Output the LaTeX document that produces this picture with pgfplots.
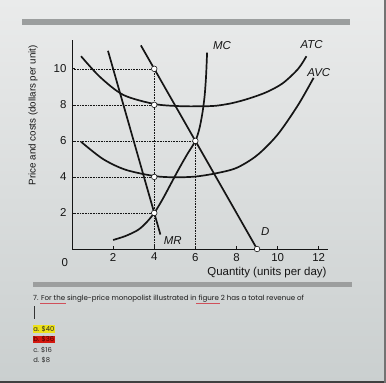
\documentclass[border=0pt]{standalone}
\usepackage{pgfplots}
\pgfplotsset{compat=1.18}
\usepackage{fontspec}
\setmainfont{Liberation Sans}
\newfontfamily\qfont{Poppins}
\definecolor{bgtop}{HTML}{EAEBEB}
\definecolor{bgbot}{HTML}{CACFCF}
\definecolor{barc}{HTML}{9C9E9E}
\definecolor{ink}{HTML}{151515}
\definecolor{hly}{HTML}{EDE21A}
\definecolor{hlr}{HTML}{D4180F}
\definecolor{squig}{HTML}{D0505A}
\begin{document}
\begin{tikzpicture}
\shade[top color=bgtop,bottom color=bgbot] (0bp,0bp) rectangle (386bp,383bp);
\useasboundingbox (0bp,0bp) rectangle (386bp,383bp);
\fill[barc] (22bp,358bp) rectangle (350bp,364bp);
\fill[barc] (33bp,96bp) rectangle (352bp,101bp);
\fill[black!75] (0bp,0bp) rectangle (386bp,2bp);
\fill[black!55] (383.5bp,0bp) rectangle (386bp,383bp);
\begin{axis}[at={(72bp,134bp)}, anchor=south west, scale only axis,
  width=256bp, height=209bp,
  xmin=0, xmax=12.45, ymin=0, ymax=11.6,
  axis lines=left, axis line style={-, ink, line width=0.9bp},
  clip=false,
  xtick={2,4,...,12}, ytick={2,4,...,10},
  tick align=inside, major tick length=3bp,
  tick style={ink, line width=0.7bp},
  ticklabel style={font=\fontsize{11.5}{13}\selectfont, text=ink},
  /pgf/number format/assume math mode=true,
  xticklabel style={yshift=-0.5bp},
  yticklabel style={xshift=-2bp},
  xlabel={Quantity (units per day)},
  xlabel style={at={(axis description cs:1,0)}, anchor=north east, yshift=-15bp, xshift=2bp, font=\fontsize{11.5}{13}\selectfont, text=ink},
  ylabel={Price and costs (dollars per unit)},
  ylabel style={at={(axis description cs:-0.152,0.64)}, anchor=center, font=\fontsize{9.8}{11}\selectfont, text=ink},
]
% dotted guide lines
\addplot[ink, densely dotted, line width=0.6bp] coordinates {(0,10) (4,10) (4,0)};
\addplot[ink, densely dotted, line width=0.6bp] coordinates {(0,8) (4,8)};
\addplot[ink, densely dotted, line width=0.6bp] coordinates {(0,4) (4,4)};
\addplot[ink, densely dotted, line width=0.6bp] coordinates {(0,2) (4,2)};
\addplot[ink, densely dotted, line width=0.6bp] coordinates {(0,6) (6,6) (6,0)};
% ATC
\addplot[ink, line width=1.7bp, smooth] coordinates {
(0.44,10.7) (1.36,9.55) (2.5,8.55) (4,8.05) (5.2,7.93) (6.2,7.92) (7,7.95) (7.8,8.1) (8.6,8.35) (9.45,8.7) (10.25,9.2) (11.0,10.0) (11.4,10.7)};
% AVC
\addplot[ink, line width=1.7bp, smooth] coordinates {
(0.44,5.95) (1.5,5.0) (2.6,4.4) (4,4.05) (5,3.98) (6,4.02) (7,4.2) (8,4.5) (9,5.2) (10,6.35) (11,8.0) (11.75,9.5)};
% MC
\addplot[ink, line width=1.7bp, smooth] coordinates {
(2,0.5) (2.6,0.72) (3.2,1.05) (3.6,1.45) (4,2) (4.4,2.75) (4.8,3.6) (5.2,4.45) (5.6,5.25) (6,6) (6.2,6.7) (6.35,7.6) (6.45,8.5) (6.52,9.6) (6.57,10.9)};
% MR
\addplot[ink, line width=1.7bp] coordinates {(1.75,11) (4.3,0.8)};
% Demand
\addplot[ink, line width=1.7bp] coordinates {(3.35,11.3) (9,0)};
% points
\addplot[only marks, mark=*, mark size=2.8bp, mark options={fill=white, draw=ink, line width=0.6bp}] coordinates {(4,10) (4,8) (4,4) (4,2) (6,6) (9,0)};
% labels
\node[font=\itshape\fontsize{11.5}{13}\selectfont, text=ink] at (axis cs:7.3,11.3) {MC};
\node[font=\itshape\fontsize{11.5}{13}\selectfont, text=ink] at (axis cs:11.65,11.35) {ATC};
\node[font=\itshape\fontsize{11.5}{13}\selectfont, text=ink] at (axis cs:12.0,9.8) {AVC};
\node[font=\itshape\fontsize{11.5}{13}\selectfont, text=ink] at (axis cs:4.9,0.45) {MR};
\node[font=\itshape\fontsize{11.5}{13}\selectfont, text=ink] at (axis cs:9.4,0.95) {D};
\node[font=\fontsize{11.5}{13}\selectfont, text=ink] at (axis cs:-0.35,-0.75) {0};
\end{axis}
% question text
\node[anchor=west, inner sep=0, font=\qfont\fontsize{7.1}{8.5}\selectfont, text=black!90] (q) at (33bp,84bp) {7. For the single-price monopolist illustrated in figure 2 has a total revenue of};
\draw[squig, line width=0.7bp] (40bp,80bp) -- (66bp,80bp);
\draw[squig, line width=0.7bp] (196bp,80bp) -- (220bp,80bp);
\draw[black!80, line width=0.6bp] (34bp,64bp) -- (34bp,77bp);
\node[anchor=west, inner sep=0.6bp, fill=hly, font=\qfont\fontsize{6.8}{8}\selectfont, text=black!85] at (32.5bp,54bp) {a. \$40};
\node[anchor=west, inner sep=0.6bp, fill=hlr, font=\qfont\fontsize{6.8}{8}\selectfont, text=black!70!red] at (32.5bp,43.5bp) {b. \$36};
\node[anchor=west, inner sep=0.6bp, font=\qfont\fontsize{6.8}{8}\selectfont, text=black!85] at (32.5bp,33bp) {c. \$16};
\node[anchor=west, inner sep=0.6bp, font=\qfont\fontsize{6.8}{8}\selectfont, text=black!85] at (32.5bp,22.5bp) {d. \$8};
\end{tikzpicture}
\end{document}
